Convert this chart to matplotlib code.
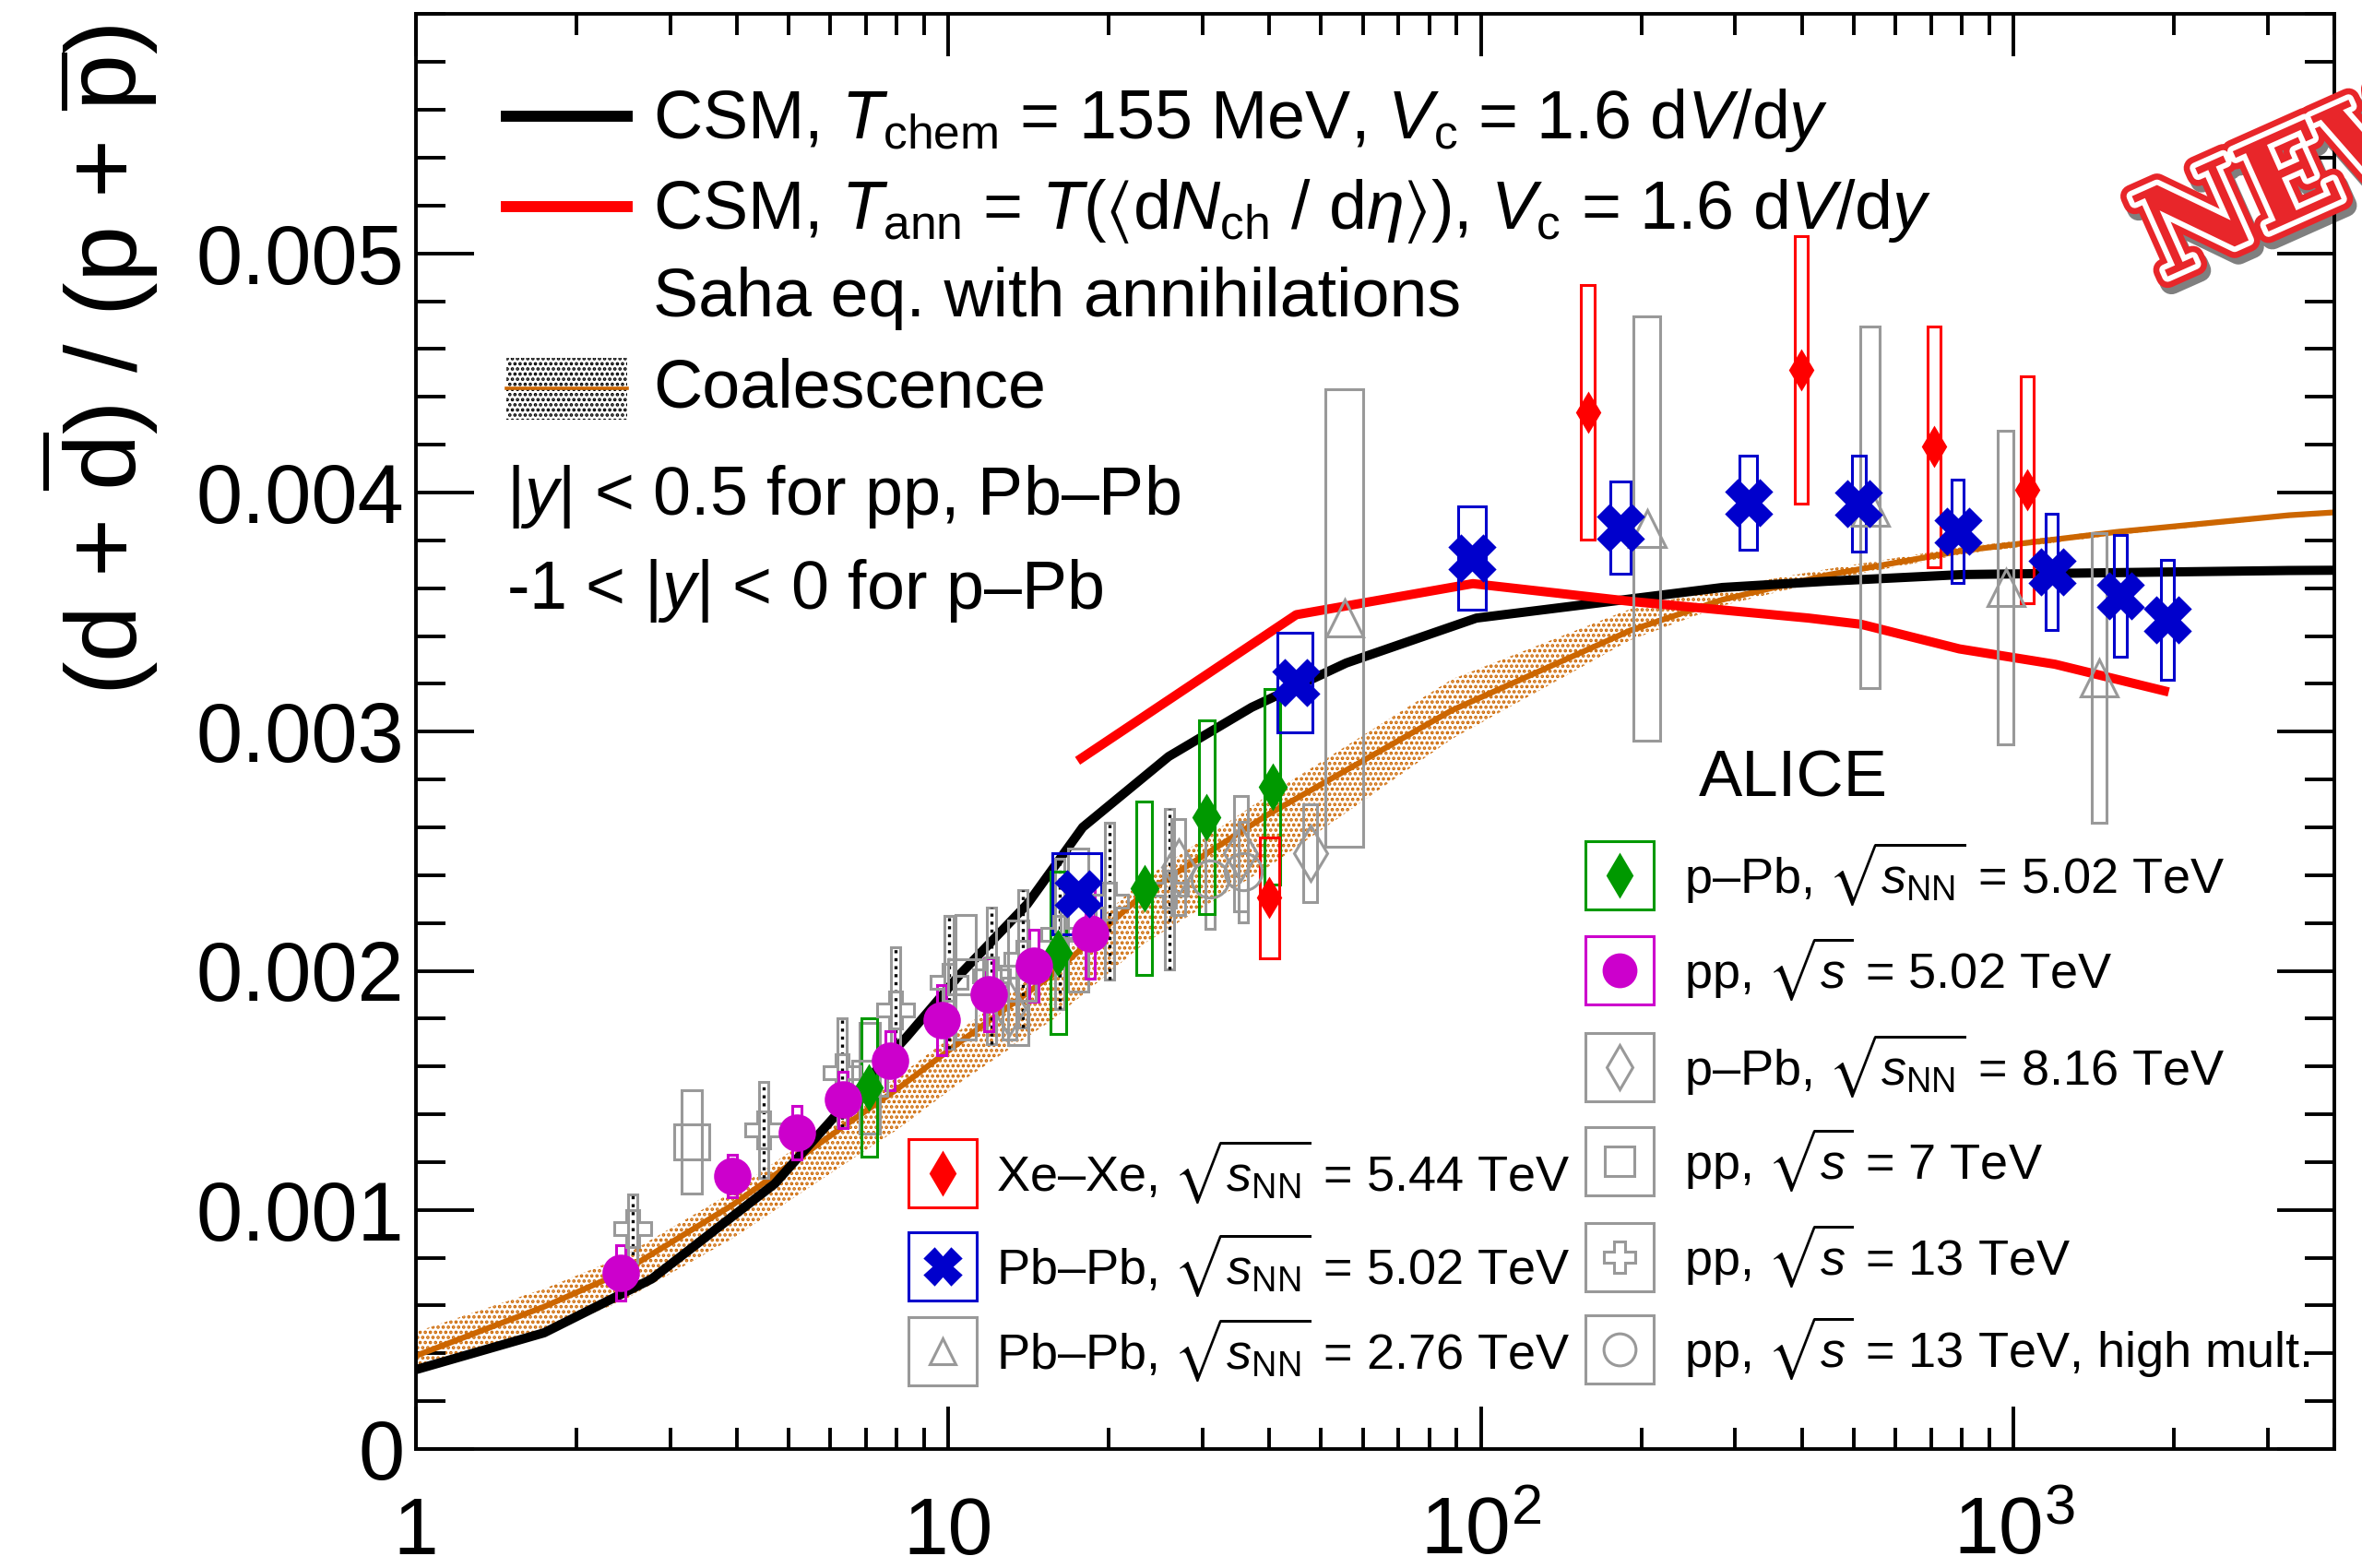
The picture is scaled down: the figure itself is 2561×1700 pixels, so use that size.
import numpy as np
import matplotlib
matplotlib.use("Agg")
import matplotlib.pyplot as plt
from matplotlib.patches import Rectangle
from matplotlib.lines import Line2D
import matplotlib.patheffects as pe
import matplotlib.transforms as mtransforms
from matplotlib.ticker import MultipleLocator, FixedLocator, LogLocator, NullFormatter

plt.rcParams["font.family"] = ["Liberation Sans", "DejaVu Sans"]
plt.rcParams["mathtext.fontset"] = "custom"
plt.rcParams["mathtext.rm"] = "Liberation Sans"
plt.rcParams["mathtext.it"] = "Liberation Sans:italic"
plt.rcParams["mathtext.bf"] = "Liberation Sans:bold"
plt.rcParams["mathtext.sf"] = "Liberation Sans"
plt.rcParams["mathtext.fallback"] = "stixsans"
plt.rcParams["hatch.linewidth"] = 1.8

# ---------------- data: d/p ratio vs <dNch/deta> ----------------
# pp, sqrt(s) = 5.02 TeV
pp502_x = [2.42, 3.93, 5.20, 6.33, 7.75, 9.69, 11.92, 14.47, 18.46]
pp502_y = [0.000737, 0.001142, 0.001322, 0.001460, 0.001624, 0.001793, 0.001900, 0.002022, 0.002155]
pp502_sys = [0.000116, 0.000089, 0.000112, 0.000116, 0.000123, 0.000147, 0.000154, 0.000150, 0.000187]

# p-Pb, sqrt(sNN) = 5.02 TeV
ppb502_x = [7.09, 16.06, 23.3, 30.5, 40.6]
ppb502_y = [0.001512, 0.002074, 0.002346, 0.002642, 0.002768]
ppb502_sys = [0.000289, 0.000339, 0.000363, 0.000405, 0.000409]

# Pb-Pb, sqrt(sNN) = 5.02 TeV
pbpb502_x = [17.52, 44.9, 96.3, 183.0, 318.0, 512.0, 786.0, 1180.0, 1587.0, 1943.0]
pbpb502_xerr = [1.84, 3.4, 5.8, 8.0, 12.0, 15.0, 20.0, 31.0, 46.0, 54.0]
pbpb502_y = [0.002322, 0.003205, 0.003725, 0.003854, 0.003957, 0.003954, 0.003837, 0.003670, 0.003567, 0.003468]
pbpb502_sys = [0.000170, 0.000208, 0.000216, 0.000193, 0.000197, 0.000201, 0.000216, 0.000243, 0.000255, 0.000251]

# Xe-Xe, sqrt(sNN) = 5.44 TeV
xexe_x = [40.05, 158.7, 399.0, 709.6, 1060.0]
xexe_xerr = [1.7, 4.8, 10.6, 20.0, 29.0]
xexe_y = [0.002305, 0.004336, 0.004512, 0.004191, 0.004012]
xexe_sys = [0.000251, 0.000532, 0.000559, 0.000505, 0.000474]

# Pb-Pb, sqrt(sNN) = 2.76 TeV
pbpb276_x = [55.5, 205.0, 537.5, 966.0, 1447.5]
pbpb276_xerr = [4.5, 12.0, 22.0, 32.0, 45.0]
pbpb276_y = [0.003476, 0.003848, 0.003937, 0.003603, 0.003224]
pbpb276_sys = [0.000956, 0.000887, 0.000756, 0.000656, 0.000605]

# pp, sqrt(s) = 13 TeV
pp13_x = [2.55, 4.50, 6.32, 7.95, 10.02, 12.04, 13.77, 16.17, 20.02, 26.02]
pp13_y = [0.000923, 0.001334, 0.001575, 0.001836, 0.001951, 0.001980, 0.002050, 0.002154, 0.002292, 0.002341]
pp13_sys = [0.000143, 0.000201, 0.000228, 0.000262, 0.000278, 0.000285, 0.000289, 0.000316, 0.000328, 0.000336]

# pp, sqrt(s) = 7 TeV
pp7_x = [3.29, 7.10, 10.78, 13.5, 17.5]
pp7_y = [0.001283, 0.001550, 0.001974, 0.001949, 0.002212]
pp7_sys = [0.000216, 0.000231, 0.000260, 0.000260, 0.000299]

# p-Pb, sqrt(sNN) = 8.16 TeV
ppb816_x = [13.0, 27.0, 35.4, 47.8]
ppb816_y = [0.001842, 0.002433, 0.002490, 0.002491]
ppb816_sys = [0.000130, 0.000201, 0.000241, 0.000204]

# pp, sqrt(s) = 13 TeV, high multiplicity
pphm_x = [31.0, 35.7]
pphm_y = [0.002382, 0.002414]
pphm_sys = [0.000206, 0.000210]

# CSM, Tchem = 155 MeV
csm_x = [1, 1.74, 2.77, 4.72, 6.16, 8.37, 10.49, 14.06, 17.86, 25.9, 37.1, 55.8, 98, 167, 284, 446, 802, 3286, 4000]
csm_y = [0.000332, 0.000486, 0.000711, 0.001110, 0.001399, 0.001727, 0.001983, 0.002279, 0.002600,
         0.002896, 0.003102, 0.003287, 0.003475, 0.003539, 0.003603, 0.003629, 0.003657, 0.003674, 0.003675]

# CSM with annihilations (Saha equation)
saha_x = [17.47, 44.96, 96.5, 190.6, 412, 517, 791, 1195, 1955]
saha_y = [0.002878, 0.003489, 0.003619, 0.003545, 0.003475, 0.003449, 0.003346, 0.003282, 0.003166]

# Coalescence: central curve and band
coal_x = [1, 1.74, 2.43, 3.92, 6.33, 8.04, 10.49, 15.64, 23.3, 39.7, 88.1, 190.6, 284, 446.6, 802, 1559, 3286, 4000]
coal_y = [0.000390, 0.000595, 0.000737, 0.001019, 0.001347, 0.001508, 0.001701, 0.001983, 0.002324,
          0.002652, 0.003089, 0.003423, 0.003552, 0.003655, 0.003757, 0.003835, 0.003905, 0.003917]
coal_hi = [0.000490, 0.000670, 0.000802, 0.001074, 0.001397, 0.001558, 0.001751, 0.002038, 0.002384,
           0.002732, 0.003219, 0.003513, 0.003602, 0.003680, 0.003772, 0.003845, 0.003913, 0.003925]
coal_lo = [0.000345, 0.000485, 0.000617, 0.000879, 0.001187, 0.001338, 0.001531, 0.001793, 0.002114,
           0.002432, 0.002969, 0.003383, 0.003527, 0.003635, 0.003742, 0.003823, 0.003895, 0.003907]

# ---------------- colours ----------------
C_MAG = "#cc00cc"
C_GRN = "#009900"
C_BLU = "#0000cc"
C_RED = "#ff0000"
C_GRY = "#999999"
C_ORG = "#cc6600"

W, H = 2561, 1700
fig = plt.figure(figsize=(W / 100, H / 100), dpi=100)
ax = fig.add_axes([451 / W, 1 - 1571 / H, 2080 / W, 1555.5 / H])
ax.set_xscale("log")
ax.set_xlim(1, 4000)
ax.set_ylim(0, 0.006)

# ---------- axes styling (inward ticks on all sides) ----------
for s in ax.spines.values():
    s.set_linewidth(2.8)
ax.yaxis.set_major_locator(FixedLocator([0, 0.001, 0.002, 0.003, 0.004, 0.005]))
ax.yaxis.set_minor_locator(MultipleLocator(0.0002))
ax.set_yticklabels(["0", "0.001", "0.002", "0.003", "0.004", "0.005"])
ax.xaxis.set_major_locator(FixedLocator([1, 10, 100, 1000]))
ax.xaxis.set_minor_locator(LogLocator(base=10, subs=np.arange(2, 10), numticks=20))
ax.xaxis.set_major_formatter(NullFormatter())
ax.xaxis.set_minor_formatter(NullFormatter())
ax.tick_params(which="both", direction="in", top=True, right=True, width=2.8)
ax.tick_params(axis="y", which="major", length=45, labelsize=65, pad=9)
ax.tick_params(axis="y", which="minor", length=23)
ax.tick_params(axis="x", which="major", length=33)
ax.tick_params(axis="x", which="minor", length=16.5)

xlab_tr = mtransforms.blended_transform_factory(ax.transData, ax.transAxes)
for v, s in zip([1, 10, 100, 1000], ["1", "10", r"$\mathregular{10^{2}}$", r"$\mathregular{10^{3}}$"]):
    ax.text(v, -0.0735, s, transform=xlab_tr, ha="center", va="baseline", fontsize=63)

fig.text(107 / W, 1 - 390 / H,
         r"(d + $\overline{\mathrm{d}}$) / (p + $\overline{\mathrm{p}}$)",
         rotation=90, fontsize=79, ha="center", va="center")

# ---------- model curves ----------
ax.fill_between(coal_x, coal_lo, coal_hi, facecolor="none", edgecolor=C_ORG,
                hatch="...", linewidth=0, zorder=1)
ax.plot(coal_x, coal_y, color=C_ORG, lw=4.5, zorder=2)
ax.plot(csm_x, csm_y, color="black", lw=7.2, zorder=2, solid_capstyle="butt")
ax.plot(saha_x, saha_y, color=C_RED, lw=7.2, zorder=2, solid_capstyle="butt")


# ---------- data ----------
def boxes(x, y, sys, color, half_dec=None, xerr=None, lw=2.2, z=4, dotted=False):
    for i, (xi, yi, e) in enumerate(zip(x, y, sys)):
        if xerr is not None:
            x0, x1 = xi - xerr[i], xi + xerr[i]
        else:
            x0, x1 = xi * 10 ** (-half_dec), xi * 10 ** half_dec
        ax.add_patch(Rectangle((x0, yi - e), x1 - x0, 2 * e, fill=False,
                               edgecolor=color, lw=lw, zorder=z))
        if dotted:
            ax.plot([xi, xi], [yi - e, yi + e], color="black", lw=2.4,
                    ls=(0, (1.0, 1.6)), zorder=z)


def markers(x, y, color, marker, ms, filled=True, mew=2.2, z=6):
    ax.plot(x, y, ls="none", marker=marker, ms=ms,
            mfc=color if filled else "none", mec=color, mew=mew, zorder=z)


# grey data sets first (background)
boxes(pp7_x, pp7_y, pp7_sys, C_GRY, half_dec=11 / 577)
boxes(pp13_x, pp13_y, pp13_sys, C_GRY, half_dec=5 / 577, dotted=True)
boxes(ppb816_x, ppb816_y, ppb816_sys, C_GRY, half_dec=7.5 / 577)
boxes(pphm_x, pphm_y, pphm_sys, C_GRY, half_dec=5 / 577)
boxes(pbpb276_x, pbpb276_y, pbpb276_sys, C_GRY, xerr=pbpb276_xerr)
markers(pp7_x, pp7_y, C_GRY, "s", 27, filled=False)
markers(pp13_x, pp13_y, C_GRY, "P", 29, filled=False)
markers(ppb816_x, ppb816_y, C_GRY, "d", 31, filled=False)
markers(pphm_x, pphm_y, C_GRY, "o", 29, filled=False)
markers(pbpb276_x, pbpb276_y, C_GRY, "^", 29, filled=False)

# coloured data sets
boxes(ppb502_x, ppb502_y, ppb502_sys, C_GRN, half_dec=8.5 / 577, z=5)
boxes(pp502_x, pp502_y, pp502_sys, C_MAG, half_dec=5 / 577, z=5)
boxes(xexe_x, xexe_y, xexe_sys, C_RED, xerr=xexe_xerr, z=5)
boxes(pbpb502_x, pbpb502_y, pbpb502_sys, C_BLU, xerr=pbpb502_xerr, z=5)
markers(ppb502_x, ppb502_y, C_GRN, "d", 23, z=7)
markers(pp502_x, pp502_y, C_MAG, "o", 27, z=7)
markers(xexe_x, xexe_y, C_RED, "d", 20, z=7)
markers(pbpb502_x, pbpb502_y, C_BLU, "X", 34, z=7)


# ---------- top-left legend (models) ----------
def px(xp, yp):
    return xp / W, 1 - yp / H


leg_fs = 53
fig.add_artist(Line2D([549 / W, 680 / W], [1 - 126 / H] * 2, color="black", lw=8.6))
fig.add_artist(Line2D([549 / W, 680 / W], [1 - 224 / H] * 2, color=C_RED, lw=8.6))
fig.add_artist(Rectangle(px(549, 455), 131 / W, 67 / H, facecolor="none", edgecolor="black",
                         hatch="...", linewidth=0))
fig.add_artist(Line2D([549 / W, 680 / W], [1 - 421 / H] * 2, color=C_ORG, lw=2.6))
fig.text(*px(708, 150), r"CSM, $T_{\mathrm{chem}}$ = 155 MeV, $V_{\mathrm{c}}$ = 1.6 d$V$/d$y$",
         fontsize=leg_fs, va="baseline")
fig.text(*px(708, 248),
         r"CSM, $T_{\mathrm{ann}}$ = $T$($\langle$d$N_{\mathrm{ch}}$ / d$\eta$$\rangle$), $V_{\mathrm{c}}$ = 1.6 d$V$/d$y$",
         fontsize=leg_fs, va="baseline")
fig.text(*px(708, 343), "Saha eq. with annihilations", fontsize=leg_fs, va="baseline")
fig.text(*px(708, 442), "Coalescence", fontsize=leg_fs, va="baseline")
fig.text(*px(549, 558), r"|$y$| < 0.5 for pp, Pb–Pb", fontsize=leg_fs, va="baseline")
fig.text(*px(549, 660), r"-1 < |$y$| < 0 for p–Pb", fontsize=leg_fs, va="baseline")

# ---------- data legends ----------
fig.text(*px(1944, 845), "ALICE", fontsize=51, ha="center", va="center")


def legend_row(xc, yc, color, marker, ms, filled, label, text_dx, mew=2.2):
    fig.add_artist(Rectangle(px(xc - 37, yc + 37), 74 / W, 74 / H, fill=False,
                             edgecolor=color, lw=2.2))
    fig.add_artist(Line2D([xc / W], [1 - yc / H], ls="none", marker=marker, ms=ms,
                          mfc=color if filled else "none", mec=color, mew=mew))
    fig.text(*px(xc + text_dx, yc + 20), label, fontsize=39, va="baseline")


sNN = r"$\sqrt{s_{\mathrm{NN}}}$"
s_ = r"$\sqrt{s}$"
legend_row(1756, 949, C_GRN, "d", 22, True, "p–Pb, " + sNN + " = 5.02 TeV", 70)
legend_row(1756, 1052, C_MAG, "o", 25, True, "pp, " + s_ + " = 5.02 TeV", 70)
legend_row(1756, 1157, C_GRY, "d", 24, False, "p–Pb, " + sNN + " = 8.16 TeV", 70)
legend_row(1756, 1259, C_GRY, "s", 23, False, "pp, " + s_ + " = 7 TeV", 70)
legend_row(1756, 1363, C_GRY, "P", 25, False, "pp, " + s_ + " = 13 TeV", 70)
legend_row(1756, 1463, C_GRY, "o", 25, False, "pp, " + s_ + " = 13 TeV, high mult.", 70)

legend_row(1022, 1272, C_RED, "d", 22, True, "Xe–Xe, " + sNN + " = 5.44 TeV", 58)
legend_row(1022, 1373, C_BLU, "X", 27, True, "Pb–Pb, " + sNN + " = 5.02 TeV", 58)
legend_row(1022, 1465, C_GRY, "^", 20, False, "Pb–Pb, " + sNN + " = 2.76 TeV", 58)

# ---------- "NEW" badge ----------
badge = fig.text(*px(2345, 302), "NEW", rotation=24, rotation_mode="anchor",
                 ha="left", va="baseline", fontsize=94, family="DejaVu Serif",
                 weight="bold", color="#e8262a", zorder=20)
badge.set_path_effects([
    pe.Stroke(linewidth=18, foreground="black", alpha=0.5, offset=(3, -5)),
    pe.Stroke(linewidth=18, foreground="#e8262a"),
    pe.Stroke(linewidth=8.5, foreground="white"),
    pe.Normal(),
])

fig.savefig("out.png", dpi=100)
